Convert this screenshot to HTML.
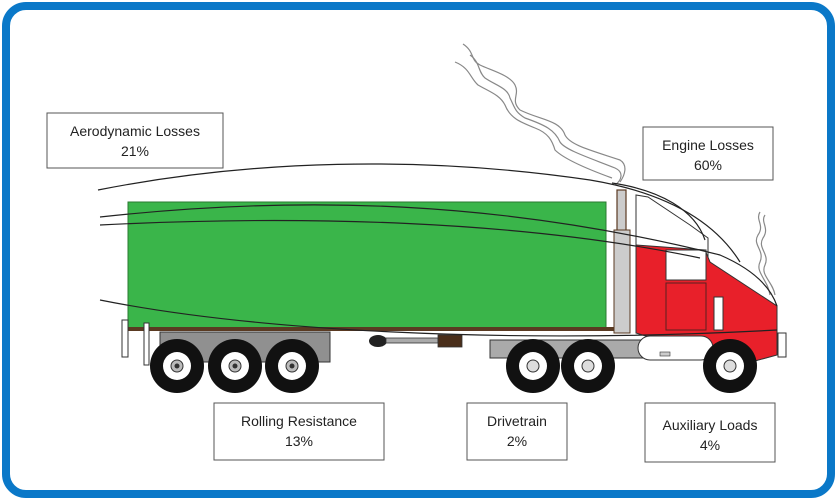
<!DOCTYPE html>
<html><head><style>
html,body{margin:0;padding:0;background:#fff;}
svg{display:block;}
text{font-family:"Liberation Sans",sans-serif;font-size:14px;fill:#222;}
</style></head><body>
<svg width="837" height="500" viewBox="0 0 837 500">
<rect x="6" y="6" width="825" height="488" rx="20" fill="#fff" stroke="#0a78c8" stroke-width="8"/>
<!-- smoke -->
<g fill="none" stroke="#888" stroke-width="1.2">
<path d="M463,44 C475,52 470,60 480,65 C490,70 510,75 515,85 C520,95 510,100 520,110 C540,120 560,120 565,135 C570,145 590,150 620,160 C628,165 625,175 620,182"/>
<path d="M470,55 C480,62 478,72 485,78 C495,85 508,88 510,98 C515,108 515,112 525,118 C545,125 555,130 560,142 C565,150 590,158 615,168 C624,172 622,180 615,185"/>
<path d="M455,62 C470,68 470,78 478,85 C490,92 500,95 505,105 C510,118 520,122 535,128 C548,133 552,140 555,150 C565,160 590,170 612,178"/>
<path d="M760,212 C755,220 765,225 758,235 C752,245 765,250 760,262 C755,272 768,280 770,295"/>
<path d="M765,215 C760,222 770,228 763,238 C757,248 770,254 765,265 C760,275 773,282 775,295"/>
</g>
<!-- trailer -->
<rect x="128" y="202" width="478" height="126" fill="#3ab54a" stroke="#2a7a30" stroke-width="1"/>
<rect x="124" y="327" width="496" height="4" fill="#5a3a22"/>
<rect x="122" y="320" width="6" height="37" fill="#fff" stroke="#333" stroke-width="1"/>
<rect x="144" y="323" width="5" height="42" fill="#fff" stroke="#333" stroke-width="1"/>
<rect x="160" y="332" width="170" height="30" fill="#909090" stroke="#333" stroke-width="1"/>
<!-- landing gear -->
<ellipse cx="378" cy="341" rx="9" ry="6" fill="#222"/>
<rect x="386" y="338" width="52" height="5" fill="#aaa" stroke="#333" stroke-width="0.8"/>
<rect x="438" y="335" width="24" height="12" fill="#4a2e1a" stroke="#333" stroke-width="0.8"/>
<!-- tractor chassis -->
<rect x="490" y="340" width="260" height="18" fill="#aaa" stroke="#333" stroke-width="1"/>
<!-- stack -->
<rect x="617" y="190" width="9" height="140" fill="#ccc" stroke="#5a3a22" stroke-width="1.2"/>
<rect x="614" y="230" width="16" height="103" fill="#ccc" stroke="#5a3a22" stroke-width="1"/>
<!-- cab -->
<path d="M636,195 L636,333 L720,333 L740,365 L776,355 L777,306 L708,262 L708,238 L690,225 L648,197 Z" fill="#fff" stroke="#333" stroke-width="1"/>
<path d="M636,245 L705,250 L710,262 L777,306 L777,355 L740,365 L636,333 Z" fill="#e8202a" stroke="#333" stroke-width="1"/>
<rect x="666" y="250" width="40" height="30" fill="#fff" stroke="#333" stroke-width="1"/>
<rect x="666" y="283" width="40" height="47" fill="none" stroke="#5a2020" stroke-width="1"/>
<rect x="714" y="297" width="9" height="33" fill="#fff" stroke="#333" stroke-width="1"/>
<rect x="778" y="333" width="8" height="24" fill="#fff" stroke="#333" stroke-width="1"/>
<rect x="638" y="336" width="75" height="24" rx="12" fill="#fff" stroke="#333" stroke-width="1"/>
<rect x="660" y="352" width="10" height="4" fill="#ccc" stroke="#333" stroke-width="0.6"/>
<!-- flow lines -->
<g fill="none" stroke="#222" stroke-width="1.2">
<path d="M98,190 C250,160 420,155 590,180 C680,195 720,230 740,262"/>
<path d="M100,217 C300,195 500,200 720,255 C750,268 770,285 777,306"/>
<path d="M100,225 C300,215 520,220 700,258"/>
<path d="M100,300 C250,330 500,345 777,330"/>
<path d="M612,183 C660,190 695,210 705,240"/>
</g>
<!-- wheels -->
<g>
<g transform="translate(177,366)"><circle r="27" fill="#111"/><circle r="14" fill="#fff"/><circle r="6" fill="#bbb" stroke="#333"/><circle r="2.5" fill="#333"/></g>
<g transform="translate(235,366)"><circle r="27" fill="#111"/><circle r="14" fill="#fff"/><circle r="6" fill="#bbb" stroke="#333"/><circle r="2.5" fill="#333"/></g>
<g transform="translate(292,366)"><circle r="27" fill="#111"/><circle r="14" fill="#fff"/><circle r="6" fill="#bbb" stroke="#333"/><circle r="2.5" fill="#333"/></g>
<g transform="translate(533,366)"><circle r="27" fill="#111"/><circle r="14" fill="#fff"/><circle r="6" fill="#ddd" stroke="#333"/></g>
<g transform="translate(588,366)"><circle r="27" fill="#111"/><circle r="14" fill="#fff"/><circle r="6" fill="#ddd" stroke="#333"/></g>
<g transform="translate(730,366)"><circle r="27" fill="#111"/><circle r="14" fill="#fff"/><circle r="6" fill="#ddd" stroke="#333"/></g>
</g>
<!-- labels -->
<g fill="#fff" stroke="#555" stroke-width="1">
<rect x="47" y="113" width="176" height="55"/>
<rect x="643" y="127" width="130" height="53"/>
<rect x="214" y="403" width="170" height="57"/>
<rect x="467" y="403" width="100" height="57"/>
<rect x="645" y="403" width="130" height="59"/>
</g>
<g text-anchor="middle">
<text x="135" y="136">Aerodynamic Losses</text><text x="135" y="156">21%</text>
<text x="708" y="150">Engine Losses</text><text x="708" y="170">60%</text>
<text x="299" y="426">Rolling Resistance</text><text x="299" y="446">13%</text>
<text x="517" y="426">Drivetrain</text><text x="517" y="446">2%</text>
<text x="710" y="430">Auxiliary Loads</text><text x="710" y="450">4%</text>
</g>
</svg>
</body></html>
